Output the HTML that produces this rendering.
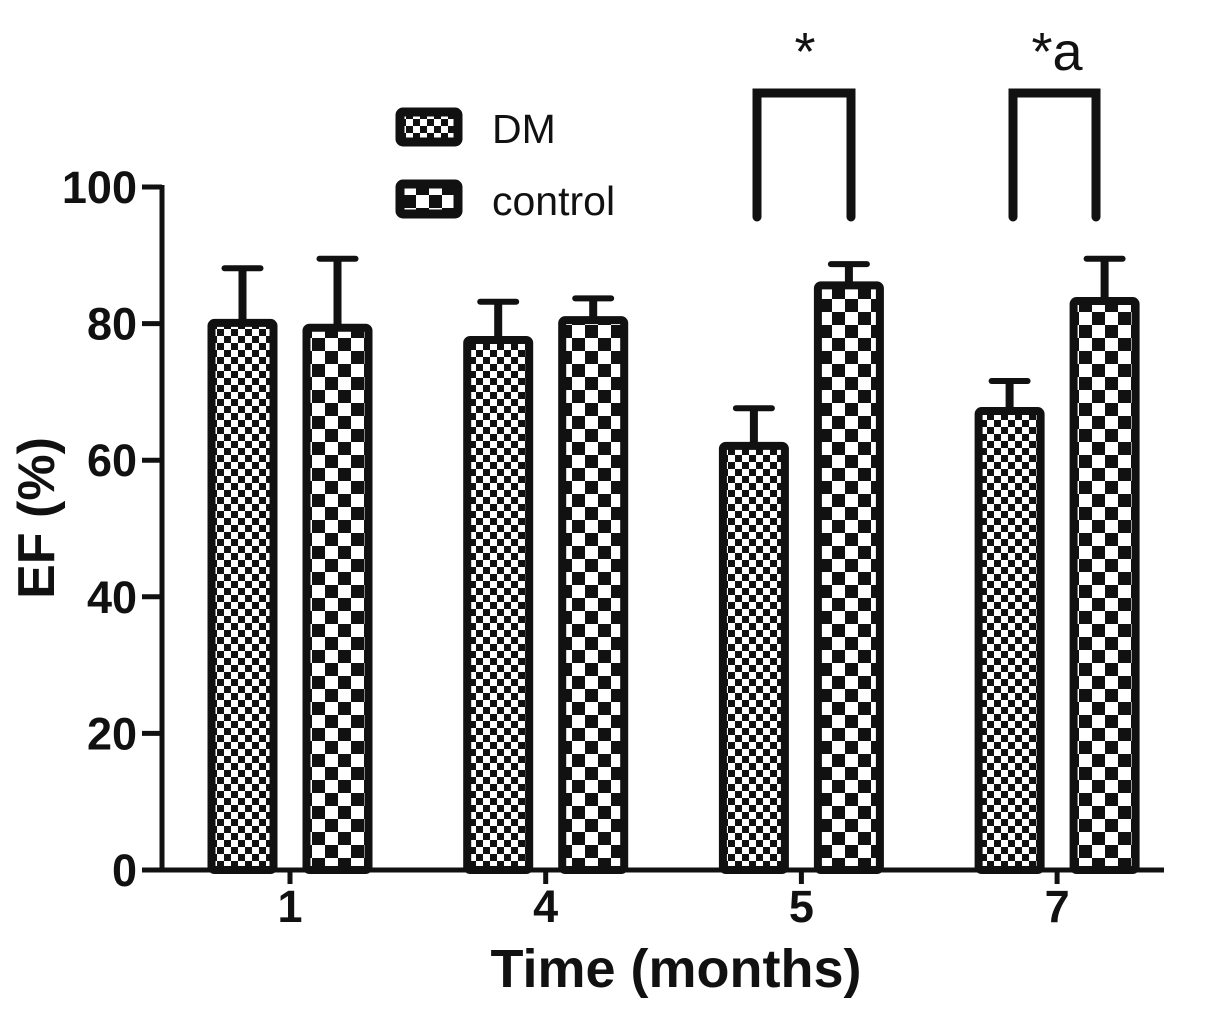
<!DOCTYPE html>
<html><head><meta charset="utf-8"><style>
body{margin:0;background:#fff;}
svg text{font-family:"Liberation Sans",Arial,sans-serif;fill:#111;}
</style></head><body>
<svg id="chart" width="1205" height="1010" viewBox="0 0 1205 1010" xmlns="http://www.w3.org/2000/svg">
<defs>
<pattern id="pDM" width="14" height="14" patternUnits="userSpaceOnUse">
<rect width="14" height="14" fill="#fff"/><rect width="7" height="7" fill="#111"/><rect x="7" y="7" width="7" height="7" fill="#111"/>
</pattern>
<pattern id="pCtrl" width="26" height="26" patternUnits="userSpaceOnUse">
<rect width="26" height="26" fill="#fff"/><rect width="13" height="13" fill="#111"/><rect x="13" y="13" width="13" height="13" fill="#111"/>
</pattern>
</defs>
<g id="g"></g>
</svg>
<script>
const categories = ["1","4","5","7"];
const dmValues = [80.1, 77.6, 62.1, 67.2];
const dmErrors = [8.0, 5.6, 5.5, 4.4];
const ctrlValues = [79.4, 80.5, 85.6, 83.3];
const ctrlErrors = [10.1, 3.2, 3.1, 6.2];
const yTicks = [0,20,40,60,80,100];

const NS="http://www.w3.org/2000/svg";
const g=document.getElementById('g');
function el(t,a,txt){const e=document.createElementNS(NS,t);for(const k in a)e.setAttribute(k,a[k]);if(txt!=null)e.textContent=txt;g.appendChild(e);return e;}
const y0=870, yTop=187;
function y(v){return y0-(y0-yTop)*v/100;}
function xc(i){return 290+i*255.7;}
const bw=62, sw=8;

let e=el('line',{x1:162,y1:y0,x2:1164,y2:y0,stroke:'#111','stroke-width':5});


e=el('line',{x1:162,y1:yTop-2,x2:162,y2:y0+2,stroke:'#111','stroke-width':5});


yTicks.forEach(t=>{
  let l=el('line',{x1:142,y1:y(t),x2:162,y2:y(t),stroke:'#111','stroke-width':5});
  
  
  let tx=el('text',{x:137,y:y(t)+16,'text-anchor':'end','font-size':45,'font-weight':'bold'},t);
  
  
});
function bar(cx,v,err,pat,name){
  const top=y(v), et=y(v+err);
  let l=el('line',{x1:cx,y1:et,x2:cx,y2:top,stroke:'#111','stroke-width':8});
  
  
  l=el('line',{x1:cx-18,y1:et,x2:cx+18,y2:et,stroke:'#111','stroke-width':6,'stroke-linecap':'round'});
  
  
  let r=el('rect',{x:cx-bw/2,y:top,width:bw,height:y0-top,fill:'url(#'+pat+')',stroke:'#111','stroke-width':sw,rx:3});
  
  
}
categories.forEach((c,i)=>{
  bar(xc(i)-47.5,dmValues[i],dmErrors[i],'pDM','bar-dm-'+c);
  bar(xc(i)+47.5,ctrlValues[i],ctrlErrors[i],'pCtrl','bar-control-'+c);
  let t=el('line',{x1:xc(i),y1:y0,x2:xc(i),y2:y0+14,stroke:'#111','stroke-width':5});
  
  
  let tx=el('text',{x:xc(i),y:922,'text-anchor':'middle','font-size':45,'font-weight':'bold'},c);
  
  
});
[[757,851,'*',805],[1013,1096,'*a',1057]].forEach((b,k)=>{
  let p=el('path',{d:`M${b[0]},217 V93 H${b[1]} V217`,fill:'none',stroke:'#111','stroke-width':9,'stroke-linecap':'round'});
  
  
  let t=el('text',{x:b[3],y:70,'text-anchor':'middle','font-size':54},b[2]);
  
  
});
[['pDM','DM',110],['pCtrl','control',182]].forEach(L=>{
  let r=el('rect',{x:400,y:L[2]+2,width:58,height:30,fill:'url(#'+L[0]+')',stroke:'#111','stroke-width':9,rx:3});
  
  
  let t=el('text',{x:492,y:L[2]+33,'font-size':41},L[1]);
  
  
});
let xt=el('text',{x:676,y:987,'text-anchor':'middle','font-size':54,'font-weight':'bold'},'Time (months)');


let yt=el('text',{x:0,y:0,'text-anchor':'middle','font-size':52,'font-weight':'bold',transform:'translate(54,518) rotate(-90)'},'EF (%)');


</script>
</body></html>
